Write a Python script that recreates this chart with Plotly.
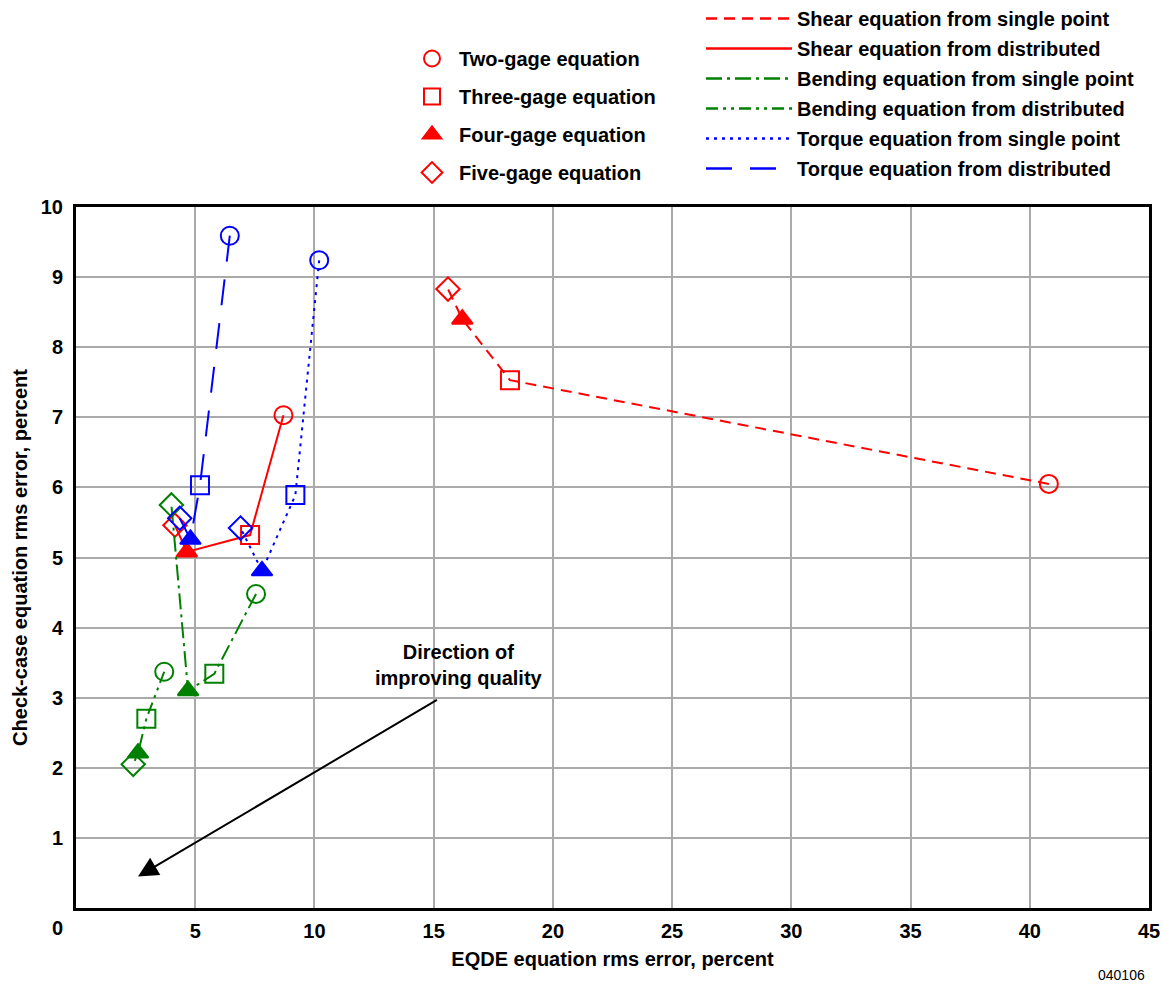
import plotly.graph_objects as go

# Equation variants, in the order each curve is traced
gage_names = ["Two-gage equation", "Three-gage equation",
              "Four-gage equation", "Five-gage equation"]
gage_symbols = ["circle-open", "square-open", "triangle-up", "diamond-open"]

# EQDE rms error (x) and check-case rms error (y), percent
shear_single_x = [40.8, 18.2, 16.2, 15.6]
shear_single_y = [6.05, 7.53, 8.40, 8.83]
shear_dist_x = [8.7, 7.3, 4.65, 4.15]
shear_dist_y = [7.03, 5.32, 5.08, 5.46]
bend_single_x = [7.55, 5.8, 4.7, 4.0]
bend_single_y = [4.48, 3.34, 3.10, 5.75]
bend_dist_x = [3.7, 2.95, 2.6, 2.4]
bend_dist_y = [3.37, 2.70, 2.21, 2.05]
torque_single_x = [10.2, 9.2, 7.8, 6.9]
torque_single_y = [9.24, 5.89, 4.81, 5.42]
torque_dist_x = [6.45, 5.2, 4.8, 4.35]
torque_dist_y = [9.59, 6.03, 5.26, 5.56]

x_ticks = [5, 10, 15, 20, 25, 30, 35, 40, 45]
y_ticks = [1, 2, 3, 4, 5, 6, 7, 8, 9, 10]

RED, GREEN, BLUE = "#ff0000", "#008000", "#0000ff"
FONT = "Liberation Sans, Arial, sans-serif"
BOLD20 = dict(family=FONT, size=20, color="black", weight="bold")

series = [
    ("Shear equation from single point", shear_single_x, shear_single_y, RED, "11px,7px"),
    ("Shear equation from distributed", shear_dist_x, shear_dist_y, RED, "solid"),
    ("Bending equation from single point", bend_single_x, bend_single_y, GREEN, "16px,5px,3px,5px"),
    ("Bending equation from distributed", bend_dist_x, bend_dist_y, GREEN, "12px,5px,3px,5px,3px,5px"),
    ("Torque equation from single point", torque_single_x, torque_single_y, BLUE, "3px,5px"),
    ("Torque equation from distributed", torque_dist_x, torque_dist_y, BLUE, "26px,18px"),
]

fig = go.Figure()

for name, xs, ys, color, dash in series:
    fig.add_trace(go.Scatter(
        x=xs, y=ys, mode="lines+markers", showlegend=False,
        line=dict(color=color, width=2, dash=dash),
        marker=dict(symbol=gage_symbols, size=18, color=color,
                    line=dict(color=color, width=2)),
    ))

# Marker key (left block)
for i, (gname, sym) in enumerate(zip(gage_names, gage_symbols)):
    fig.add_trace(go.Scatter(
        x=[None], y=[None], mode="markers", name=gname,
        legend="legend", legendgroup=f"g{i}",
        marker=dict(symbol=sym, size=16, color=RED, line=dict(color=RED, width=2)),
    ))

# Line-style key (right block)
for i, (name, xs, ys, color, dash) in enumerate(series):
    fig.add_trace(go.Scatter(
        x=[None], y=[None], mode="lines", name=name,
        legend="legend2", legendgroup=f"l{i}",
        line=dict(color=color, width=2.5, dash=dash),
    ))

axis_common = dict(
    showline=True, linecolor="black", linewidth=3, mirror=True,
    showgrid=True, gridcolor="#aaaaaa", gridwidth=2,
    zeroline=False, ticks="", automargin=False,
    tickfont=BOLD20,
)

PW, PH = 1073, 701  # plot area in pixels


def px_x(p):
    return (p - 76) / PW


def px_y(p):
    return (908 - p) / PH


fig.update_layout(
    width=1163, height=986,
    margin=dict(l=76, r=14, t=207, b=78, autoexpand=False),
    paper_bgcolor="white", plot_bgcolor="white",
    font=dict(family=FONT, color="black"),
    xaxis=dict(range=[0, 45], tickvals=x_ticks, ticklabelstandoff=3,
               title=dict(text="EQDE equation rms error, percent",
                          font=BOLD20, standoff=11),
               **axis_common),
    yaxis=dict(range=[0, 10], tickvals=y_ticks, ticklabelstandoff=6,
               title=dict(text="Check-case equation rms error, percent",
                          font=BOLD20, standoff=8),
               **axis_common),
    legend=dict(x=px_x(405), y=px_y(39), xanchor="left", yanchor="top",
                font=BOLD20, bgcolor="rgba(0,0,0,0)", itemwidth=44,
                traceorder="grouped", tracegroupgap=9, itemsizing="trace"),
    legend2=dict(x=px_x(701), y=px_y(-1), xanchor="left", yanchor="top",
                 font=BOLD20, bgcolor="rgba(0,0,0,0)", itemwidth=86,
                 traceorder="grouped", tracegroupgap=1),
    annotations=[
        dict(x=2.6, y=0.45, ax=15.2, ay=2.98, xref="x", yref="y",
             axref="x", ayref="y", text="", showarrow=True,
             arrowhead=2, arrowsize=2.0, arrowwidth=2, arrowcolor="black"),
        dict(x=16.07, y=3.46, xref="x", yref="y", showarrow=False,
             text="Direction of<br>improving quality", font=BOLD20),
        dict(x=px_x(57), y=px_y(928), xref="paper", yref="paper",
             xanchor="center", yanchor="middle", showarrow=False,
             text="0", font=BOLD20),
        dict(x=px_x(1147), y=px_y(975), xref="paper", yref="paper",
             xanchor="right", yanchor="middle", showarrow=False, text="040106",
             font=dict(family=FONT, size=14, color="black")),
    ],
)

fig.write_html("out.html")
